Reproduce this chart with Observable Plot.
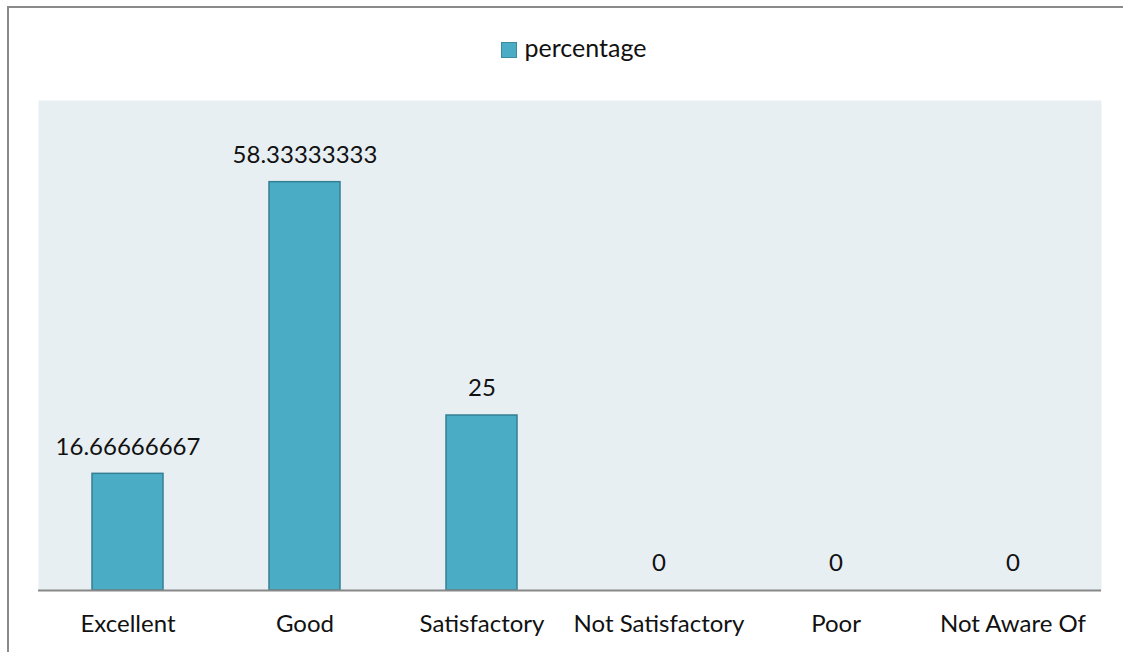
<!DOCTYPE html>
<html>
<head>
<meta charset="utf-8">
<script src="https://cdn.jsdelivr.net/npm/d3@7"></script>
<script src="https://cdn.jsdelivr.net/npm/@observablehq/plot@0.6"></script>
<style>
  html, body { margin: 0; padding: 0; background: #fff; overflow: hidden; }
  #wrap { position: relative; width: 1123px; height: 652px; overflow: hidden; font-family: Lato, "Open Sans", sans-serif; }
  #frame { position: absolute; left: 7px; top: 6px; width: 1116px; height: 646px; border-top: 2px solid #8a8a8a; border-left: 2px solid #8a8a8a; box-sizing: border-box; }
  #legend { position: absolute; left: 12px; top: 32px; width: 1123px; text-align: center; font-size: 25px; color: #111; line-height: 30px; }
  #legend .sw { display: inline-block; width: 14px; height: 14px; background: #4bacc6; border: 1px solid #3a8aa0; vertical-align: -1px; margin-right: 8px; }
  #chart { position: absolute; left: 0; top: 0; }
</style>
</head>
<body>
<div id="wrap">
  <div id="frame"></div>
  <div id="chart"></div>
  <div id="legend"><span class="sw"></span>percentage</div>
</div>
<script>
const categories = ["Excellent", "Good", "Satisfactory", "Not Satisfactory", "Poor", "Not Aware Of"];
const percentage = [16.66666667, 58.33333333, 25, 0, 0, 0];
const valueLabels = ["16.66666667", "58.33333333", "25", "0", "0", "0"];

const data = categories.map((c, i) => ({category: c, value: percentage[i], label: valueLabels[i]}));

const chart = Plot.plot({
  width: 1123,
  height: 652,
  marginLeft: 38,
  marginRight: 22,
  marginTop: 100,
  marginBottom: 62,
  style: {fontFamily: "Lato, 'Open Sans', sans-serif", fontSize: "24px", color: "#111", background: "transparent"},
  x: {domain: categories, paddingInner: 0.6, paddingOuter: 0.3, label: null},
  y: {domain: [0, 70], axis: null},
  marks: [
    Plot.frame({fill: "#e8eff3", stroke: null}),
    Plot.barY(data, {x: "category", y: "value", fill: "#4bacc6", stroke: "#357f94", strokeWidth: 1.5}),
    Plot.ruleY([0], {stroke: "#888888", strokeWidth: 2}),
    Plot.text(data, {x: "category", y: "value", text: "label", dy: -27, fontSize: 24, fill: "#111"}),
    Plot.axisX({tickSize: 0, tickPadding: 24, fontSize: 24, label: null, fill: "#111"})
  ]
});
document.getElementById("chart").appendChild(chart);
</script>
</body>
</html>
